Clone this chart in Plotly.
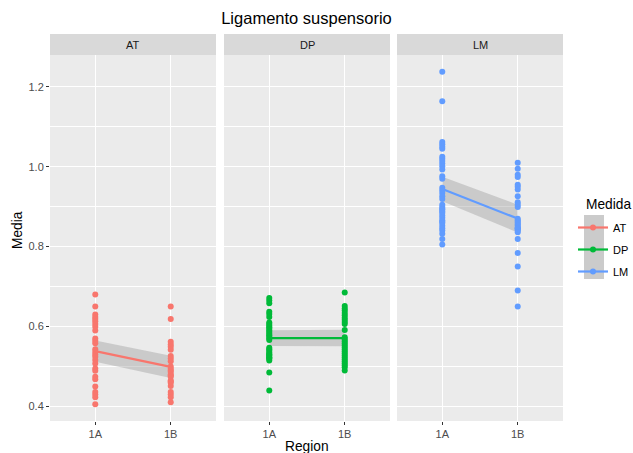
import numpy as np
import plotly.graph_objects as go

# ---------------- data ----------------
medidas = ["AT", "DP", "LM"]
regions = ["1A", "1B"]
colors = ["#F8766D", "#00BA38", "#619CFF"]

AT_1A = [0.680, 0.650, 0.630, 0.624, 0.619, 0.613, 0.606, 0.599, 0.590, 0.570, 0.564, 0.558,
         0.543, 0.536, 0.530, 0.524, 0.516, 0.507, 0.495, 0.489, 0.474, 0.468, 0.450, 0.436,
         0.430, 0.423, 0.405]
AT_1B = [0.650, 0.619, 0.562, 0.555, 0.549, 0.542, 0.526, 0.520, 0.513, 0.500, 0.494, 0.490,
         0.486, 0.480, 0.477, 0.474, 0.465, 0.462, 0.459, 0.451, 0.436, 0.430, 0.423, 0.410]
DP_1A = [0.671, 0.665, 0.658, 0.637, 0.631, 0.624, 0.610, 0.606, 0.602, 0.598, 0.594, 0.590,
         0.586, 0.582, 0.578, 0.574, 0.570, 0.566, 0.547, 0.543, 0.539, 0.535, 0.531, 0.529,
         0.527, 0.523, 0.521, 0.519, 0.515, 0.485, 0.440]
DP_1B = [0.685, 0.651, 0.645, 0.640, 0.634, 0.628, 0.622, 0.617, 0.611, 0.606, 0.591, 0.573,
         0.568, 0.563, 0.558, 0.553, 0.548, 0.543, 0.538, 0.533, 0.528, 0.523, 0.518, 0.513,
         0.508, 0.503, 0.498, 0.490]
LM_1A = [1.238, 1.164, 1.062, 1.056, 1.050, 1.045, 1.025, 1.020, 1.014, 1.008, 1.001, 0.993,
         0.976, 0.970, 0.947, 0.941, 0.934, 0.926, 0.919, 0.905, 0.899, 0.895, 0.892, 0.888,
         0.884, 0.878, 0.872, 0.866, 0.862, 0.859, 0.852, 0.846, 0.840, 0.832, 0.819, 0.805]
LM_1B = [1.010, 0.995, 0.980, 0.974, 0.955, 0.950, 0.943, 0.926, 0.911, 0.905, 0.899, 0.870,
         0.866, 0.862, 0.859, 0.855, 0.852, 0.848, 0.846, 0.845, 0.843, 0.840, 0.836, 0.819,
         0.784, 0.750, 0.690, 0.650]

y_ticks = [0.4, 0.6, 0.8, 1.0, 1.2]
y_tick_text = ["0.4", "0.6", "0.8", "1.0", "1.2"]
y_minor = [0.5, 0.7, 0.9, 1.1]

data = {
    "AT": {"1A": AT_1A, "1B": AT_1B},
    "DP": {"1A": DP_1A, "1B": DP_1B},
    "LM": {"1A": LM_1A, "1B": LM_1B},
}

FONT = "Liberation Sans, Arial, Helvetica, sans-serif"
W, H = 633, 453
ML, MR, MT, MB = 50, 70, 34, 32
PW = W - ML - MR
PH = H - MT - MB
panel_px = [(0, 166), (174, 340), (347, 513)]
strip_h = 21
ydom_top = (PH - strip_h) / PH


def px_x(px):
    return (px - ML) / PW


def px_y(py):
    return (H - MB - py) / PH


def t_quant(df):
    z = 1.959964
    return z + (z**3 + z) / (4 * df) + (5 * z**5 + 16 * z**3 + 3 * z) / (96 * df**2)


fig = go.Figure()

all_vals = np.concatenate([np.array(v, float) for m in medidas for v in data[m].values()])
lo, hi = all_vals.min(), all_vals.max()
pad = 0.05 * (hi - lo)
yrange = [lo - pad, hi + pad]

for i, (m, col) in enumerate(zip(medidas, colors)):
    xa = "x" if i == 0 else f"x{i+1}"
    ya = "y" if i == 0 else f"y{i+1}"
    groups = [np.array(data[m][r], float) for r in regions]
    means = np.array([g.mean() for g in groups])
    ns = np.array([len(g) for g in groups])
    N = ns.sum()
    ss = sum(((g - g.mean()) ** 2).sum() for g in groups)
    sigma = np.sqrt(ss / (N - 2))
    half = t_quant(N - 2) * sigma / np.sqrt(ns)
    gx = [1, 2]
    # confidence ribbon
    fig.add_trace(go.Scatter(x=gx + gx[::-1],
                             y=list(means + half) + list((means - half)[::-1]),
                             fill="toself", fillcolor="rgba(153,153,153,0.4)",
                             line=dict(width=0), mode="lines", xaxis=xa, yaxis=ya,
                             showlegend=False, hoverinfo="skip"))
    # fitted line
    fig.add_trace(go.Scatter(x=gx, y=means, mode="lines", xaxis=xa, yaxis=ya,
                             line=dict(color=col, width=2.2), showlegend=False,
                             hoverinfo="skip"))
    # points
    xs, ys = [], []
    for j, r in enumerate(regions):
        xs += [j + 1] * len(data[m][r])
        ys += data[m][r]
    fig.add_trace(go.Scatter(x=xs, y=ys, mode="markers", xaxis=xa, yaxis=ya,
                             marker=dict(color=col, size=6, line=dict(width=0)),
                             showlegend=False, hoverinfo="skip"))
    # legend entry
    fig.add_trace(go.Scatter(x=[None], y=[None], mode="lines+markers", name=m,
                             legendgroup=m, xaxis=xa, yaxis=ya,
                             line=dict(color=col, width=2.2),
                             marker=dict(color=col, size=6)))

axis_common = dict(
    showgrid=True, gridcolor="white", gridwidth=1.2, zeroline=False,
    showline=False, ticks="outside", ticklen=3, tickwidth=1, tickcolor="#333333",
    tickfont=dict(family=FONT, size=11, color="#4D4D4D"),
)

layout = dict(
    width=W, height=H,
    margin=dict(l=ML, r=MR, t=MT, b=MB, autoexpand=False),
    paper_bgcolor="white", plot_bgcolor="#EBEBEB",
    font=dict(family=FONT),
    title=dict(text="Ligamento suspensorio", x=(ML + PW / 2) / W, xanchor="center",
               xref="container", yref="container", y=1 - 18 / H, yanchor="middle",
               font=dict(family=FONT, size=16.5, color="black")),
    legend=dict(font=dict(family=FONT, size=11, color="black"),
                x=px_x(573), xanchor="left", y=px_y(213), yanchor="top",
                bgcolor="rgba(0,0,0,0)", tracegroupgap=3, traceorder="grouped",
                itemwidth=30),
    showlegend=True,
)

shapes = []
annotations = []
for i, m in enumerate(medidas):
    sfx = "" if i == 0 else str(i + 1)
    x0, x1 = panel_px[i]
    layout[f"xaxis{sfx}"] = dict(
        axis_common, domain=[x0 / PW, x1 / PW], range=[0.4, 2.6],
        tickvals=[1, 2], ticktext=regions, anchor=f"y{sfx}",
    )
    ya = dict(
        axis_common, domain=[0, ydom_top], range=yrange, tickvals=y_ticks,
        ticktext=y_tick_text, anchor=f"x{sfx}",
        minor=dict(tickvals=y_minor, showgrid=True, gridcolor="white",
                   gridwidth=0.6, ticks=""),
    )
    if i > 0:
        ya.update(showticklabels=False, ticks="", matches="y")
    layout[f"yaxis{sfx}"] = ya
    # strip
    shapes.append(dict(type="rect", xref=f"x{sfx} domain", yref="paper",
                       x0=0, x1=1, y0=ydom_top, y1=1, fillcolor="#D9D9D9",
                       line=dict(width=0), layer="below"))
    annotations.append(dict(text=m, xref=f"x{sfx} domain", yref="paper", x=0.5,
                            y=(ydom_top + 1) / 2, showarrow=False, xanchor="center",
                            yanchor="middle",
                            font=dict(family=FONT, size=11, color="#1A1A1A")))

# legend key background (grey smooth band)
shapes.append(dict(type="rect", xref="paper", yref="paper",
                   x0=px_x(584), x1=px_y(0) * 0 + px_x(604), y0=px_y(279), y1=px_y(215),
                   fillcolor="#CBCBCB", line=dict(width=0), layer="below"))

annotations.append(dict(text="Medida", xref="paper", yref="paper", x=px_x(584),
                        y=px_y(204), showarrow=False, xanchor="left", yanchor="middle",
                        font=dict(family=FONT, size=13.75, color="black")))
annotations.append(dict(text="Region", xref="paper", yref="paper", x=0.5,
                        y=px_y(446), showarrow=False, xanchor="center",
                        yanchor="middle", font=dict(family=FONT, size=13.75, color="black")))
annotations.append(dict(text="Media", xref="paper", yref="paper", x=px_x(17),
                        y=px_y(230), showarrow=False, xanchor="center",
                        yanchor="middle", textangle=-90,
                        font=dict(family=FONT, size=13.75, color="black")))

layout["shapes"] = shapes
layout["annotations"] = annotations
fig.update_layout(**layout)

fig.write_html("out.html")
